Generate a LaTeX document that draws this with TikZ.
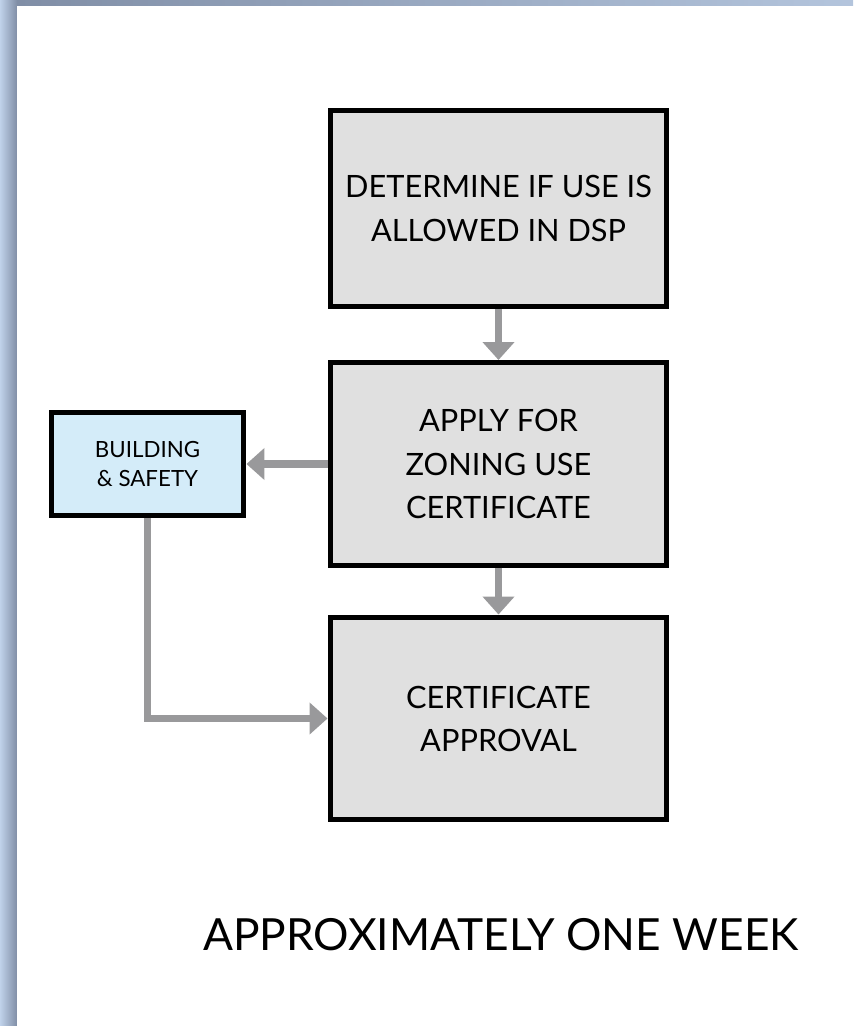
\documentclass[tikz,border=0pt]{standalone}
\usepackage{fontspec}
\setmainfont{Lato}
\usepackage{tikz}
\usetikzlibrary{arrows.meta, positioning, calc}
\definecolor{boxgrey}{RGB}{224, 224, 224}
\definecolor{safetyblue}{RGB}{212, 236, 249}
\definecolor{arrowgrey}{RGB}{153, 153, 155}
\definecolor{framelight}{RGB}{192, 210, 234}
\definecolor{framedark}{RGB}{128, 142, 166}

\begin{document}
\begin{tikzpicture}[
  x=0.02cm, y=-0.02cm,
  sbox/.style={draw=black, fill=boxgrey, line width=0.1cm, minimum width=6.74cm, minimum height=4.06cm, align=center, font=\fontsize{17.5}{24.5}\selectfont, inner sep=4pt},
  bsbox/.style={draw=black, fill=safetyblue, line width=0.1cm, minimum width=3.86cm, minimum height=2.08cm, align=center, font=\fontsize{12.7}{17}\selectfont},
  flow/.style={draw=arrowgrey, line width=0.15cm, -{Triangle[length=0.36cm, width=0.62cm]}}
]
  \useasboundingbox (0, 0) rectangle (853, 1026);
  % window frame
  \shade[left color=framelight, right color=framedark] (0, 0) rectangle (17, 1026);
  \shade[left color=framedark, right color=framelight!80!framedark] (17, 0) rectangle (853, 6);
  \fill[white] (17, 6) rectangle (853, 1026);

  \node[sbox, minimum height=3.94cm] (determine) at (498.5, 208.5) {DETERMINE IF USE IS\\ALLOWED IN DSP};
  \node[sbox] (apply) at (498.5, 464) {APPLY FOR\\ZONING USE\\CERTIFICATE};
  \node[sbox] (approval) at (498.5, 718.5) {CERTIFICATE\\APPROVAL};
  \node[bsbox] (safety) at (147.5, 464) {BUILDING\\\& SAFETY};

  \draw[flow] (determine.south) -- (apply.north);
  \draw[flow] (apply.south) -- (approval.north);
  \draw[flow] (apply.west) -- (safety.east);
  \draw[flow] (safety.south) |- (approval.west);

  \node[font=\fontsize{25.2}{30}\selectfont] (duration) at (501, 935) {APPROXIMATELY ONE WEEK};
\end{tikzpicture}
\end{document}
